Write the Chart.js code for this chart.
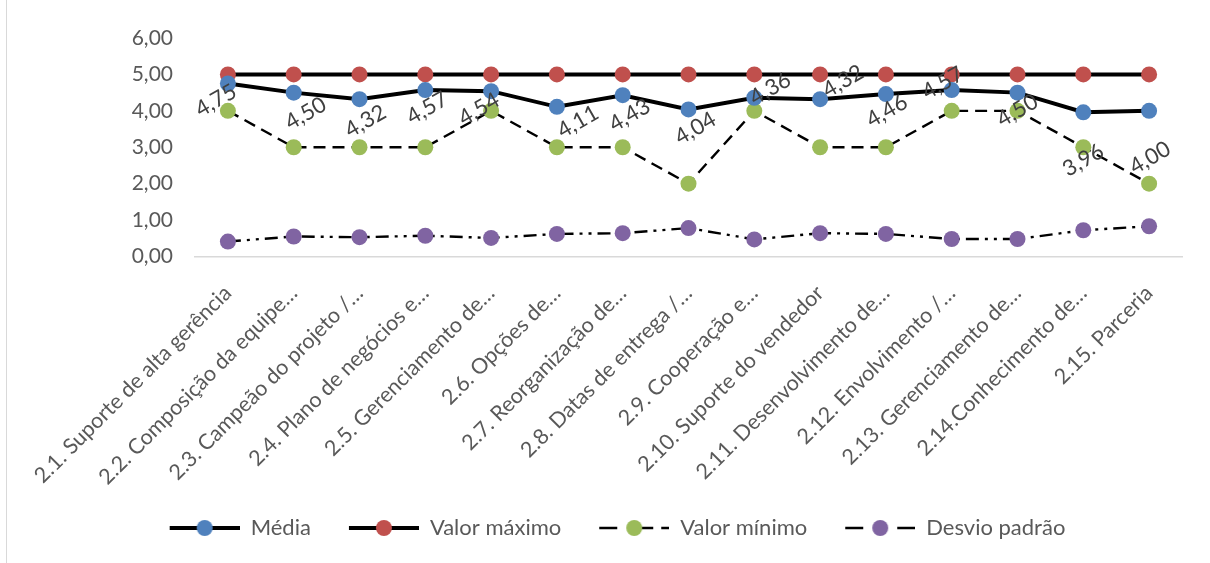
<!DOCTYPE html>
<html>
<head>
<meta charset="utf-8">
<script src="https://cdn.jsdelivr.net/npm/chart.js@4"></script>
<style>
  body { margin: 0; background: #fff; }
  #wrap { position: absolute; left: 0; top: 0; width: 1210px; height: 563px; }
  #frame { position: absolute; left: 6px; top: 0; width: 1px; height: 563px; background: #d9d9d9; }
</style>
</head>
<body>
<div id="wrap"><canvas id="chart" width="1210" height="563"></canvas></div>
<div id="frame"></div>
<script>
const categories = [
  '2.1. Suporte de alta gerência',
  '2.2. Composição da equipe…',
  '2.3. Campeão do projeto /…',
  '2.4. Plano de negócios e…',
  '2.5. Gerenciamento de…',
  '2.6. Opções de…',
  '2.7. Reorganização de…',
  '2.8. Datas de entrega /…',
  '2.9. Cooperação e…',
  '2.10. Suporte do vendedor',
  '2.11. Desenvolvimento de…',
  '2.12. Envolvimento /…',
  '2.13. Gerenciamento de…',
  '2.14.Conhecimento de…',
  '2.15. Parceria'
];
const media = [4.75, 4.50, 4.32, 4.57, 4.54, 4.11, 4.43, 4.04, 4.36, 4.32, 4.46, 4.57, 4.50, 3.96, 4.00];
const valorMaximo = [5, 5, 5, 5, 5, 5, 5, 5, 5, 5, 5, 5, 5, 5, 5];
const valorMinimo = [4, 3, 3, 3, 4, 3, 3, 2, 4, 3, 3, 4, 4, 3, 2];
const desvioPadrao = [0.41, 0.55, 0.53, 0.57, 0.51, 0.62, 0.64, 0.78, 0.47, 0.64, 0.62, 0.48, 0.48, 0.72, 0.83];
const yTicks = [0, 1, 2, 3, 4, 5, 6];

// where Excel left each "Média" data label, relative to its point
const labelNudge = [[-12,17],[12,21],[6,22],[2,18],[-12,18],[21,15],[7,20],[7,19],[16,-9],[23,-18],[1,17],[-9,-7],[0,18],[0,48],[1,47]];

const fmt = v => v.toFixed(2).replace('.', ',');
const FONT = 'Lato, "Open Sans", sans-serif';

// legend swatch: line with a marker, plus an empty strip on the left as spacing
const ICON_GAP = 33, ICON_W = 70;
function legendIcon(color, dash, width) {
  const c = document.createElement('canvas');
  c.width = ICON_GAP + ICON_W; c.height = 18;
  const g = c.getContext('2d');
  g.strokeStyle = '#000';
  g.lineWidth = width;
  g.setLineDash(dash);
  g.beginPath(); g.moveTo(ICON_GAP, 9); g.lineTo(ICON_GAP + ICON_W, 9); g.stroke();
  g.setLineDash([]);
  g.fillStyle = color;
  g.beginPath(); g.arc(ICON_GAP + ICON_W / 2, 9, 8, 0, Math.PI * 2); g.fill();
  return c;
}

const series = [
  { label: 'Média', data: media, color: '#4F81BD', dash: [], width: 4, legendDash: [] },
  { label: 'Valor máximo', data: valorMaximo, color: '#C0504D', dash: [], width: 4, legendDash: [] },
  { label: 'Valor mínimo', data: valorMinimo, color: '#9BBB59', dash: [12, 7], width: 2.4, legendDash: [18, 10, 2, 10, 14, 8, 8, 100] },
  { label: 'Desvio padrão', data: desvioPadrao, color: '#8064A2', dash: [13, 6, 3, 6, 3, 6], width: 2.4, legendDash: [18, 34, 18] }
];

const mediaLabels = {
  id: 'mediaLabels',
  afterDatasetsDraw(chart) {
    const meta = chart.getDatasetMeta(0);
    const ctx = chart.ctx;
    ctx.save();
    ctx.font = '22px ' + FONT;
    ctx.fillStyle = '#404040';
    ctx.textAlign = 'center';
    ctx.textBaseline = 'middle';
    meta.data.forEach((pt, i) => {
      const n = labelNudge[i] || [0, 18];
      ctx.save();
      ctx.translate(pt.x + n[0], pt.y + n[1]);
      ctx.rotate(-30 * Math.PI / 180);
      ctx.fillText(fmt(media[i]), 0, 0);
      ctx.restore();
    });
    ctx.restore();
  }
};

new Chart(document.getElementById('chart'), {
  type: 'line',
  data: {
    labels: categories,
    datasets: series.map(s => ({
      label: s.label,
      data: s.data,
      borderColor: '#000',
      borderWidth: s.width,
      borderDash: s.dash,
      backgroundColor: s.color,
      pointStyle: 'circle',
      pointBackgroundColor: s.color,
      pointBorderColor: s.color,
      pointBorderWidth: 0,
      pointRadius: 8,
      pointHoverRadius: 8,
      tension: 0,
      fill: false
    }))
  },
  options: {
    responsive: false,
    animation: false,
    layout: { padding: { left: 20, right: 28, top: 38, bottom: 14 } },
    scales: {
      x: {
        offset: true,
        grid: { display: false, drawTicks: false },
        border: { display: true, color: '#d9d9d9', width: 1.5 },
        ticks: {
          autoSkip: false, maxRotation: 45, minRotation: 45,
          color: '#595959', font: { family: FONT, size: 21.5 }, padding: 24
        }
      },
      y: {
        min: 0, max: 6,
        afterBuildTicks: axis => { axis.ticks = yTicks.map(v => ({ value: v })); },
        afterFit: axis => { axis.width = 175; },
        grid: { display: false, drawTicks: false },
        border: { display: false },
        ticks: {
          color: '#595959', font: { family: FONT, size: 21 }, padding: 22,
          callback: v => fmt(v)
        }
      }
    },
    plugins: {
      tooltip: { enabled: false },
      legend: {
        position: 'bottom',
        labels: {
          usePointStyle: true,
          pointStyleWidth: ICON_GAP + ICON_W,
          padding: 5,
          color: '#595959',
          font: { family: FONT, size: 22 },
          generateLabels(chart) {
            return chart.data.datasets.map((d, i) => ({
              text: d.label,
              pointStyle: legendIcon(series[i].color, series[i].legendDash, series[i].width),
              fillStyle: series[i].color,
              strokeStyle: 'transparent',
              lineWidth: 0,
              fontColor: '#595959',
              datasetIndex: i,
              hidden: false
            }));
          }
        }
      }
    }
  },
  plugins: [mediaLabels]
});
</script>
</body>
</html>
